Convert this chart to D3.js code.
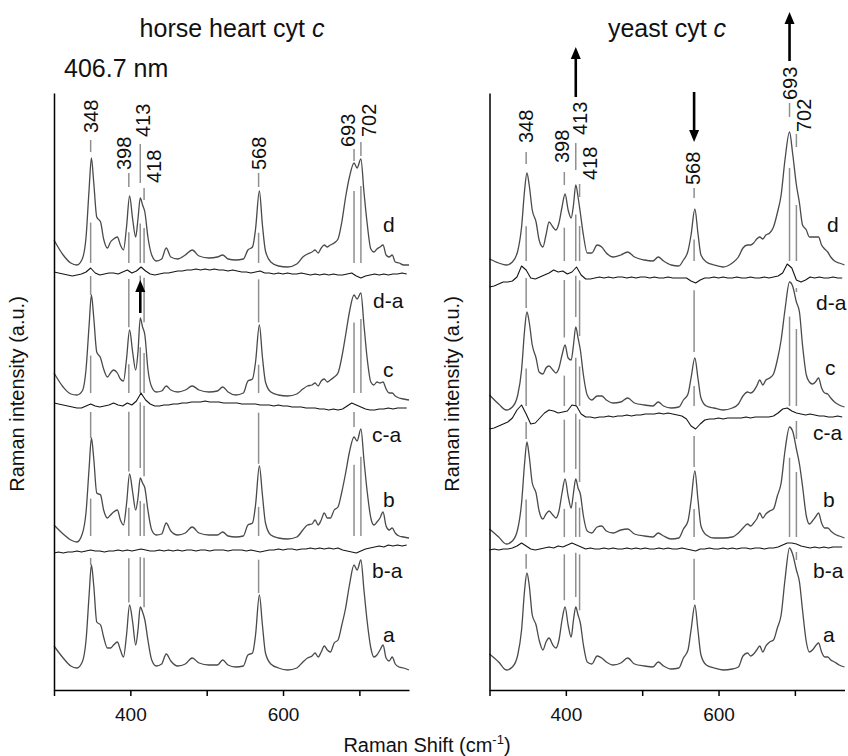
<!DOCTYPE html>
<html>
<head>
<meta charset="utf-8">
<script src="https://cdn.jsdelivr.net/npm/d3@7"></script>
<style>
  body { margin: 0; background: #fff; }
  svg text { font-family: "Liberation Sans", Arial, sans-serif; fill: #111; }
</style>
</head>
<body>
<svg id="chart" width="848" height="756"></svg>
<script>
// ---- data -------------------------------------------------------------
// wavenumber knots (cm-1) for the full spectra a..d
var shifts = [300, 312, 322, 330, 337, 342, 346, 349, 352, 356, 361, 365, 370, 374, 378, 383, 387, 391, 395, 399,
  403, 407, 410, 413, 416, 419, 423, 428, 434, 441, 447, 453, 462, 472, 481, 490, 503, 514, 521, 528,
  538, 548, 554, 560, 564, 569, 573, 577, 584, 594, 606, 618, 626, 632, 638, 642, 646, 650, 654, 658,
  662, 667, 672, 677, 682, 687, 693, 697, 702, 706, 710, 715, 719, 723, 727, 731, 735, 739, 743, 747,
  752, 758, 765];

// wavenumber knots for the difference spectra
var diffShifts = [300, 306, 312, 318, 324, 330, 336, 342, 348, 354, 360, 366, 372, 378, 384, 390, 396, 402, 408, 414,
  420, 426, 432, 438, 444, 450, 456, 462, 468, 474, 480, 486, 492, 498, 504, 510, 516, 522, 528, 534,
  540, 546, 552, 558, 564, 570, 576, 582, 588, 594, 600, 606, 612, 618, 624, 630, 636, 642, 648, 654,
  660, 666, 672, 678, 684, 690, 696, 702, 708, 714, 720, 726, 732, 738, 744, 750, 756, 762];

// horse heart cyt c (intensity above each trace's own baseline, a.u.)
var horseA = [24, 12, 4, 2, 8, 30, 75, 105, 85, 48, 45, 33, 22, 22, 25, 28, 20, 13, 35, 65,
  48, 25, 40, 63, 58, 50, 30, 10, 4, 6, 16, 9, 4, 6, 12, 7, 5, 5, 10, 5,
  3, 4, 15, 17, 35, 75, 45, 17, 6, 2, 0, 2, 8, 12, 14, 17, 13, 18, 24, 20,
  18, 27, 30, 45, 62, 85, 105, 100, 110, 80, 50, 22, 13, 15, 20, 25, 12, 9, 13, 6,
  3, 2, 0];
var horseB = [15, 6, 0, -2, 6, 28, 72, 102, 82, 47, 45, 30, 22, 25, 28, 30, 20, 15, 36, 66,
  48, 30, 42, 62, 57, 52, 30, 10, 5, 6, 17, 9, 5, 7, 13, 7, 5, 5, 8, 4,
  3, 4, 15, 17, 35, 74, 45, 17, 5, 2, 1, 3, 10, 15, 16, 20, 15, 20, 27, 22,
  22, 30, 33, 48, 67, 88, 103, 99, 111, 80, 50, 22, 15, 18, 22, 28, 14, 10, 12, 7,
  4, 3, 2];
var horseC = [24, 10, 3, 2, 6, 28, 72, 102, 80, 45, 39, 28, 20, 24, 27, 24, 18, 16, 38, 67,
  45, 27, 45, 79, 70, 62, 28, 10, 5, 6, 11, 7, 5, 7, 11, 7, 5, 6, 10, 5,
  2, 4, 16, 18, 35, 72, 40, 15, 5, 2, 1, 3, 8, 11, 12, 14, 11, 16, 18, 15,
  17, 20, 24, 40, 62, 85, 102, 98, 104, 72, 40, 15, 12, 15, 14, 15, 8, 4, 4, 1,
  -1, -2, -3];
var horseD = [27, 12, 4, 2, 8, 30, 78, 109, 85, 50, 45, 28, 19, 25, 28, 30, 22, 17, 40, 71,
  48, 30, 48, 69, 62, 55, 30, 12, 6, 8, 19, 10, 8, 12, 17, 11, 9, 10, 12, 8,
  7, 8, 17, 20, 38, 76, 42, 16, 5, 1, 0, 3, 10, 13, 15, 17, 14, 19, 22, 20,
  22, 24, 28, 45, 70, 90, 104, 99, 108, 75, 45, 18, 15, 18, 20, 22, 12, 10, 12, 5,
  4, 2, 2];
var horseDA = [1, 0, -1, -2, -3, -2, -1, 1, 5, 0, -2, -1, 0, 0, -1, 1, 3, 0, 2, 6,
  2, -1, -2, -1, 0, 0, 1, 2, 2, 3, 3, 4, 3, 4, 3, 4, 3, 3, 2, 3,
  2, 1, 1, 0, 1, 2, 0, 0, -1, 0, -1, 0, -1, -1, 0, -1, -2, -1, -2, -1,
  -2, -1, -2, -2, -1, 0, -3, -5, -3, -2, -1, -2, -1, -2, -1, -1, 0, -1];
var horseCA = [3, 2, 1, 0, -1, -2, -2, 0, 2, 0, -1, 0, 1, 3, 1, 0, 3, 1, 5, 13,
  6, 2, 0, 0, 1, 1, 2, 2, 3, 3, 4, 4, 4, 5, 4, 4, 4, 3, 3, 3,
  3, 2, 2, 2, 2, 1, 1, 1, 0, 1, 0, 0, -1, -1, -1, -2, -2, -2, -3, -3,
  -4, -3, -4, -3, 0, 3, 1, -1, -3, -4, -4, -3, -3, -2, -3, -2, -2, -2];
var horseBA = [-2, -1, -2, -1, -1, 0, -1, 0, 1, 0, 0, -1, 0, 0, 1, 0, 1, 0, 1, 2,
  1, 0, 0, 1, 0, 1, 0, 1, 0, 1, 1, 0, 1, 1, 0, 1, 1, 1, 0, 1,
  1, 1, 0, 1, 0, -1, 0, 1, 1, 2, 1, 2, 2, 1, 2, 2, 3, 2, 3, 2,
  3, 2, 3, 1, 0, -1, -2, 0, 2, 3, 4, 5, 4, 6, 5, 6, 5, 6];

// yeast cyt c
var yeastA = [16, 8, 0, 3, 15, 40, 80, 97, 85, 55, 45, 30, 20, 28, 32, 25, 22, 30, 50, 63,
  45, 33, 50, 63, 55, 47, 25, 8, 6, 14, 12, 8, 5, 7, 12, 6, 4, 3, 8, 4,
  1, 2, 12, 20, 40, 65, 40, 15, 5, 2, 0, 1, 3, 14, 17, 14, 16, 20, 24, 18,
  24, 28, 30, 42, 55, 90, 122, 116, 100, 88, 60, 28, 18, 20, 24, 27, 18, 13, 13, 10,
  8, 5, 3];
var yeastB = [12, 4, -3, 0, 12, 38, 78, 99, 85, 58, 48, 30, 22, 27, 30, 26, 23, 30, 48, 62,
  45, 33, 48, 62, 53, 47, 25, 10, 8, 14, 15, 10, 8, 11, 12, 7, 5, 4, 8, 5,
  2, 3, 12, 20, 40, 70, 42, 15, 6, 3, 3, 4, 8, 13, 17, 15, 18, 22, 28, 23,
  27, 30, 32, 45, 58, 90, 114, 110, 92, 77, 55, 25, 17, 20, 24, 28, 18, 13, 13, 10,
  7, 5, 3];
var yeastC = [15, 6, 0, 3, 15, 40, 80, 98, 88, 65, 52, 38, 36, 42, 44, 40, 37, 42, 55, 65,
  52, 50, 65, 83, 72, 60, 35, 15, 10, 14, 14, 10, 7, 8, 12, 7, 5, 4, 8, 4,
  2, 3, 10, 16, 32, 52, 32, 12, 4, 2, 0, 2, 6, 14, 18, 17, 19, 24, 30, 25,
  30, 32, 36, 50, 70, 100, 128, 124, 108, 98, 65, 35, 28, 26, 28, 32, 22, 17, 16, 12,
  8, 5, 3];
var yeastD = [6, 2, 0, 3, 14, 38, 75, 92, 80, 55, 43, 25, 18, 30, 43, 38, 35, 42, 58, 71,
  55, 47, 60, 80, 68, 52, 30, 12, 12, 20, 18, 12, 8, 10, 13, 8, 5, 4, 8, 4,
  0, -1, 5, 14, 30, 56, 32, 10, 3, 0, -2, 2, 8, 17, 20, 20, 22, 26, 28, 26,
  30, 32, 38, 52, 70, 105, 133, 112, 80, 62, 40, 35, 28, 28, 28, 28, 20, 16, 13, 8,
  4, 2, 0];
var yeastDA = [-9, -8, -6, -4, -4, -3, 1, 12, 8, 0, -1, 1, 3, 5, 8, 6, 7, 4, 6, 11,
  3, -1, -1, 0, 1, 0, 1, 0, 1, 1, 0, 1, 0, 1, 1, 0, 1, 0, 0, 1,
  0, 0, 0, 0, -3, -5, -2, 0, 0, 1, 0, 1, 0, 0, 1, 0, 0, 1, 0, 0,
  1, 0, 1, 2, 5, 14, 10, -2, -4, -2, 1, 0, 1, 0, 0, 1, 0, 0];
var yeastCA = [-9, -8, -6, -4, -2, 2, 10, 15, 6, -4, -3, 2, 7, 10, 9, 7, 8, 9, 15, 14,
  6, 3, 3, 2, 3, 3, 4, 3, 4, 4, 5, 4, 5, 5, 6, 6, 6, 7, 6, 7,
  6, 5, 4, 1, -6, -9, -4, 0, 1, 1, 2, 1, 2, 2, 2, 2, 3, 2, 3, 3,
  3, 3, 4, 7, 11, 12, 9, 7, 6, 5, 6, 5, 4, 4, 3, 3, 4, 3];
var yeastBA = [-1, 0, -1, 0, 0, 1, 3, 6, 3, 0, -1, 0, 1, 2, 1, 3, 2, 4, 6, 4,
  2, 0, 1, 0, 0, 1, 0, 1, 0, 0, 1, 0, 1, 0, 1, 0, 0, 1, 0, 1,
  0, 0, 1, 0, -1, -2, 0, 0, 1, 0, 0, 1, 0, 1, 0, 1, 1, 0, 1, 1,
  0, 1, 1, 2, 4, 6, 6, 5, 3, 2, 1, 2, 1, 2, 1, 2, 2, 2];

// stacking order (bottom to top) and vertical offsets of each trace
var traceNames = ["a", "b-a", "b", "c-a", "c", "d-a", "d"];
var horseOffsets = [20, 139, 150, 284, 293, 417, 423];
var yeastOffsets = [20, 141, 149, 270, 280, 412, 425];

// marked band positions (cm-1)
var peaks = [348, 398, 413, 418, 568, 693, 702];
var peakLabels = ["348", "398", "413", "418", "568", "693", "702"];

var xTicks = [300, 400, 500, 600, 700];
var xTickLabels = [400, 600];

// ---- layout ------------------------------------------------------------
var svg = d3.select("#chart");
var y = d3.scaleLinear().domain([0, 597]).range([690, 93]);

var panels = [
  {
    x0: 54, title: "horse heart cyt ", titleX: 232,
    series: [horseA, horseBA, horseB, horseCA, horseC, horseDA, horseD],
    offsets: horseOffsets,
    labelDx: [0, -5, 3, 10, 0, -6, 8],
    labelY: [133, 170, 137, 183, 170, 147, 137],
    dashY: [[140, 152], [173, 187], [144, 183], [188, 200], [173, 187], [149, 161], [142, 156]],
    traceLabelX: [383, 372, 383, 372, 383, 373, 383],
    traceLabelY: [642, 578, 507, 442, 377, 308, 232],
    arrows: [[413, 313, 280]],
    yLabelX: 17
  },
  {
    x0: 489.5, title: "yeast cyt ", titleX: 667,
    series: [yeastA, yeastBA, yeastB, yeastCA, yeastC, yeastDA, yeastD],
    offsets: yeastOffsets,
    labelDx: [0, -3, 4, 10, -1, 0, 7],
    labelY: [143, 163, 135, 180, 185, 100, 132],
    dashY: [[152, 164], [172, 185], [143, 170], [184, 197], [188, 198], [103, 117], [134, 147]],
    traceLabelX: [823, 813, 823, 813, 825, 816, 827],
    traceLabelY: [642, 578, 507, 440, 375, 310, 232],
    arrows: [[413, 97, 47], [568, 92, 142], [693, 61, 12]],
    yLabelX: 452
  }
];

var insideFrac = [0.45, 0.55, 0.63, 0.68, 0.5, 0.73, 0.75];

function valueAt(xs, vals, v) {
  var i = d3.bisectRight(xs, v);
  if (i <= 0) return vals[0];
  if (i >= xs.length) return vals[vals.length - 1];
  var t = (v - xs[i - 1]) / (xs[i] - xs[i - 1]);
  return vals[i - 1] + t * (vals[i] - vals[i - 1]);
}

function arrow(g, x, yTail, yTip) {
  var dir = yTip < yTail ? 1 : -1; // 1 = pointing up
  var head = 12, half = 5;
  g.append("line")
    .attr("x1", x).attr("x2", x)
    .attr("y1", yTail).attr("y2", yTip + dir * (head - 2))
    .attr("stroke", "#000").attr("stroke-width", 2.6);
  g.append("path")
    .attr("d", "M" + x + "," + yTip + "L" + (x - half) + "," + (yTip + dir * head) + "L" + (x + half) + "," + (yTip + dir * head) + "Z")
    .attr("fill", "#000");
}

panels.forEach(function(p) {
  var x = d3.scaleLinear().domain([300, 765]).range([p.x0, p.x0 + 355]);
  var g = svg.append("g");
  var markG = g.append("g").attr("stroke", "#8f8f8f").attr("stroke-width", 1.5);

  function seg(px, y1, y2) {
    markG.append("line").attr("x1", px).attr("x2", px).attr("y1", y1).attr("y2", y2);
  }

  // band marker segments
  peaks.forEach(function(pk, k) {
    var px = x(pk);
    traceNames.forEach(function(name, i) {
      if (name.indexOf("-") > 0) return;
      var top = y(p.offsets[i] + valueAt(shifts, p.series[i], pk));
      if (i > 0) {
        seg(px, y(p.offsets[i] + 4), y(p.offsets[i] + insideFrac[k] * valueAt(shifts, p.series[i], pk)));
      }
      if (i < 6) {
        var above = y(p.offsets[i + 1] + valueAt(diffShifts, p.series[i + 1], pk)) + 8;
        if (top - 10 - above > 4) seg(px, above, top - 10);
      }
    });
    seg(px, p.dashY[k][0], p.dashY[k][1]);
  });

  // spectra
  traceNames.forEach(function(name, i) {
    var isDiff = name.indexOf("-") > 0;
    var xs = isDiff ? diffShifts : shifts;
    var off = p.offsets[i];
    var line = d3.line()
      .x(function(d, j) { return x(xs[j]); })
      .y(function(d) { return y(off + d); })
      .curve(isDiff ? d3.curveLinear : d3.curveMonotoneX);
    g.append("path")
      .attr("d", line(p.series[i]))
      .attr("fill", "none")
      .attr("stroke", isDiff ? "#151515" : "#4a4a4a")
      .attr("stroke-width", isDiff ? 1.1 : 1.3)
      .attr("stroke-linejoin", "round");
    g.append("text")
      .attr("x", p.traceLabelX[i]).attr("y", p.traceLabelY[i])
      .attr("font-size", 21)
      .text(name);
  });

  // band labels
  peaks.forEach(function(pk, k) {
    var lx = x(pk) + p.labelDx[k], ly = p.labelY[k];
    g.append("text")
      .attr("x", lx).attr("y", ly).attr("dy", "0.36em")
      .attr("transform", "rotate(-90," + lx + "," + ly + ")")
      .attr("font-size", 20)
      .text(peakLabels[k]);
  });

  p.arrows.forEach(function(a) { arrow(g, x(a[0]), a[1], a[2]); });

  // axes
  var xAxis = d3.axisBottom(x)
    .tickValues(xTicks)
    .tickFormat(function(d) { return xTickLabels.indexOf(d) >= 0 ? d : ""; })
    .tickSizeInner(6).tickSizeOuter(0).tickPadding(12);
  var ax = g.append("g").attr("transform", "translate(0,690)").call(xAxis);
  ax.attr("font-size", 19).attr("font-family", "Liberation Sans, Arial, sans-serif");
  ax.select(".domain").attr("stroke-width", 1.5);
  ax.selectAll(".tick line").attr("stroke-width", 1.5);

  var ay = g.append("g").attr("transform", "translate(" + p.x0 + ",0)")
    .call(d3.axisLeft(y).tickValues([]).tickSizeOuter(0));
  ay.select(".domain").attr("stroke-width", 1.5);

  g.append("text")
    .attr("transform", "translate(" + p.yLabelX + ",394) rotate(-90)")
    .attr("text-anchor", "middle").attr("dy", "0.35em")
    .attr("font-size", 20)
    .text("Raman intensity (a.u.)");

  var t = g.append("text")
    .attr("x", p.titleX).attr("y", 37)
    .attr("text-anchor", "middle")
    .attr("font-size", 25);
  t.append("tspan").text(p.title);
  t.append("tspan").attr("font-style", "italic").text("c");
});

svg.append("text")
  .attr("x", 64).attr("y", 77)
  .attr("font-size", 25)
  .text("406.7 nm");

var xt = svg.append("text")
  .attr("x", 427).attr("y", 752)
  .attr("text-anchor", "middle")
  .attr("font-size", 20);
xt.append("tspan").text("Raman Shift (cm");
xt.append("tspan").attr("dy", -8).attr("font-size", 13).text("-1");
xt.append("tspan").attr("dy", 8).text(")");
</script>
</body>
</html>
